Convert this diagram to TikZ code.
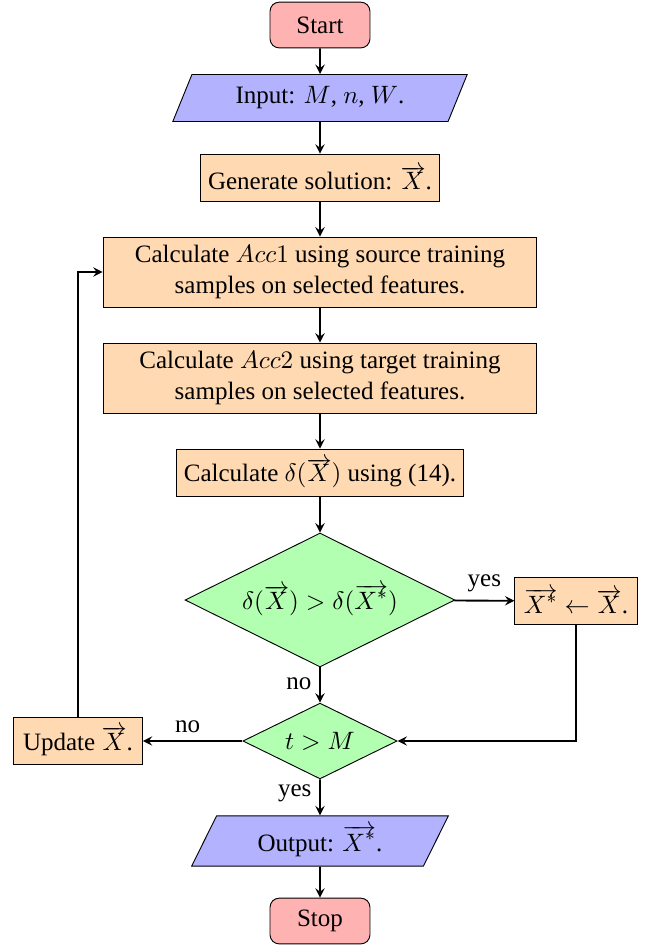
\documentclass[tikz,border=0pt]{standalone}
\usepackage{fontspec}
\setmainfont{Liberation Serif}
\usetikzlibrary{shapes.geometric,arrows}

\newcommand{\vX}{\overrightarrow{X}}
\newcommand{\vXs}{\overrightarrow{X^{*}}}

\begin{document}
\begin{tikzpicture}[x = 0.0153cm, y = -0.0153cm, font = \fontsize{10.9pt}{13.4pt}\selectfont,
  startstop/.style = {rectangle, rounded corners, draw = black, fill = red!30, minimum width = 1.53cm, minimum height = 0.7cm},
  io/.style = {trapezium, trapezium left angle = 70, trapezium right angle = 110, trapezium stretches = true, draw = black, fill = blue!30, minimum height = 0.72cm},
  process/.style = {rectangle, draw = black, fill = orange!30, minimum height = 0.73cm, align = center},
  decision/.style = {diamond, aspect = 2, draw = black, fill = green!30, inner sep = 0pt},
  arrow/.style = {thick, ->, >=stealth}]
\useasboundingbox (0,0) rectangle (649,947);
%
\node[startstop] (start) at (320,25) {Start};
\node[io, minimum width = 4.53cm] (in) at (320,98) {Input: $M$, $n$, $W$.};
\node[process, minimum width = 3.6cm] (gen) at (320,178) {Generate solution: $\vX$.};
\node[process, minimum width = 6.64cm, minimum height = 1.07cm] (acc1) at (320,272) {Calculate $Acc1$ using source training\\ samples on selected features.};
\node[process, minimum width = 6.64cm, minimum height = 1.07cm] (acc2) at (320,378) {Calculate $Acc2$ using target training\\ samples on selected features.};
\node[process, minimum width = 4.38cm] (calc) at (320,473) {Calculate $\delta(\vX)$ using (14).};
%
\node[decision, minimum width = 4.13cm, minimum height = 2.05cm] (dec1) at (320,600) {$\delta(\vX) > \delta(\vXs)$};
\node[process, minimum width = 1.87cm] (assign) at (576,601) {$\vXs \leftarrow \vX$.};
\node[decision, minimum width = 2.36cm, minimum height = 1.16cm] (dec2) at (320,741) {$t > M$};
\node[process, minimum width = 1.97cm] (update) at (78,741) {Update $\vX$.};
%
\node[io, minimum width = 3.93cm, minimum height = 0.77cm] (out) at (320,841) {Output: $\vXs$.};
\node[startstop] (stop) at (320,921) {Stop};
%
\draw[arrow] (start) -- (in);\draw[arrow] (in) -- (gen);\draw[arrow] (gen) -- (acc1);
\draw[arrow] (acc1) -- (acc2);\draw[arrow] (acc2) -- (calc);\draw[arrow] (calc) -- (dec1);
\draw[arrow] (dec1) -- node[above, pos = 0.5] {yes} (assign);
\draw[arrow] (dec1) -- node[left, pos = 0.45] {no} (dec2);
\draw[arrow] (assign.south) |- (dec2.east);
\draw[arrow] (dec2) -- node[above, pos = 0.55] {no} (update);
\draw[arrow] (dec2) -- node[left, pos = 0.4] {yes} (out);
\draw[arrow] (update.north) |- (acc1.west);
\draw[arrow] (out) -- (stop);
\end{tikzpicture}
\end{document}
